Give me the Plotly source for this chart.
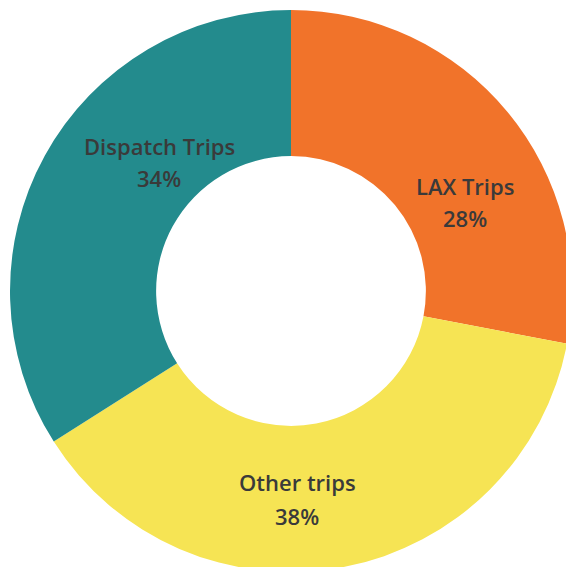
import plotly.graph_objects as go

labels = ["LAX Trips", "Other trips", "Dispatch Trips"]
values = [28, 38, 34]
colors = ["#F1732A", "#F6E454", "#238B8D"]
# label anchor positions (pixels from top-left) for name and percent lines
label_pos = {"LAX Trips": (465, 186, 218), "Other trips": (297, 482, 516), "Dispatch Trips": (159, 146, 178)}

W = H = 580
fig = go.Figure(go.Pie(
    labels=labels, values=values, sort=False, direction="clockwise", rotation=0,
    hole=0.48, marker=dict(colors=colors, line=dict(width=0)),
    textinfo="none", hoverinfo="label+percent",
    domain=dict(x=[10 / W, 572 / W], y=[1 - 572 / H, 1 - 10 / H]),
    showlegend=False,
))

total = sum(values)
anns = []
for lab, v in zip(labels, values):
    x, y1, y2 = label_pos[lab]
    for txt, yy in ((lab, y1), (f"{round(100 * v / total)}%", y2)):
        anns.append(dict(x=x / W, y=1 - yy / H, xref="paper", yref="paper", text=txt,
                         showarrow=False, xanchor="center", yanchor="middle",
                         font=dict(family="Open Sans", size=22, color="#3A3A3A", weight=600)))

fig.update_layout(width=W, height=H, margin=dict(l=0, r=0, t=0, b=0),
                  paper_bgcolor="white", plot_bgcolor="white", annotations=anns)

fig.write_html("out.html", post_script="document.documentElement.style.overflow='hidden';document.body.style.overflow='hidden';document.body.style.margin='0';")
